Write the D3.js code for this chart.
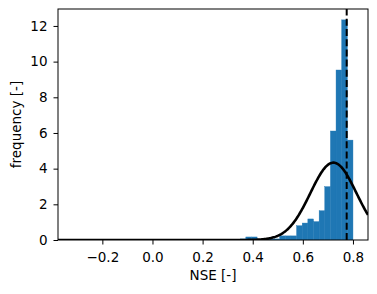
<!DOCTYPE html>
<html>
<head>
<meta charset="utf-8">
<script src="https://cdn.jsdelivr.net/npm/d3@7"></script>
<style>
  body { margin: 0; background: #fff; }
  svg text { font-family: "DejaVu Sans", sans-serif; font-size: 13.5px; fill: #000; }
</style>
</head>
<body>
<div id="chart"></div>
<script>
// histogram bins (density), left edges + width
const binStart = 0.35;
const binWidth = 0.0225;
const binHeights = [0.06, 0.17, 0.17, 0, 0, 0.06, 0.06, 0.23, 0.23, 0.23,
                    0.8, 0.95, 1.18, 1.03, 1.64, 2.99, 6.11, 9.53, 12.34, 5.6];
// fitted normal
const fitMean = 0.722;
const fitSd = 0.092;
// median marker
const medianNSE = 0.775;
const xTicks = [-0.2, 0.0, 0.2, 0.4, 0.6, 0.8];
const yTicks = [0, 2, 4, 6, 8, 10, 12];
const xDomain = [-0.377, 0.86];
const yDomain = [0, 12.95];

const width = 377, height = 294;
const margins = { top: 9, right: 9, bottom: 54, left: 58 };

const svg = d3.select('#chart').append('svg')
  .attr('width', width).attr('height', height);

const x = d3.scaleLinear().domain(xDomain).range([margins.left, width - margins.right]);
const y = d3.scaleLinear().domain(yDomain).range([height - margins.bottom, margins.top]);

svg.append('defs').append('clipPath').attr('id', 'clip')
  .append('rect')
  .attr('x', margins.left).attr('y', margins.top)
  .attr('width', width - margins.left - margins.right)
  .attr('height', height - margins.top - margins.bottom);

const plot = svg.append('g').attr('clip-path', 'url(#clip)');

// bars
const bins = binHeights.map((h, i) => ({ x0: binStart + i * binWidth, x1: binStart + (i + 1) * binWidth, h }));
plot.selectAll('rect.bar').data(bins.filter(d => d.h > 0)).enter().append('rect')
  .attr('class', 'bar')
  .attr('x', d => x(d.x0))
  .attr('width', d => x(d.x1) - x(d.x0))
  .attr('y', d => y(d.h))
  .attr('height', d => y(0) - y(d.h))
  .attr('fill', '#1f77b4')
  .attr('stroke', '#1f77b4')
  .attr('stroke-width', 0.4);

// normal fit curve
const pdf = v => Math.exp(-((v - fitMean) ** 2) / (2 * fitSd * fitSd)) / (fitSd * Math.sqrt(2 * Math.PI));
const curveX = d3.range(0, 401).map(i => xDomain[0] + (xDomain[1] - xDomain[0]) * i / 400);
plot.append('path')
  .datum(curveX)
  .attr('d', d3.line().x(d => x(d)).y(d => y(pdf(d))))
  .attr('fill', 'none')
  .attr('stroke', '#000')
  .attr('stroke-width', 2.6);

// dashed median line
plot.append('line')
  .attr('x1', x(medianNSE)).attr('x2', x(medianNSE))
  .attr('y1', y(yDomain[0])).attr('y2', y(yDomain[1]))
  .attr('stroke', '#000')
  .attr('stroke-width', 2)
  .attr('stroke-dasharray', '7,3.2');

// axes
const fmt = d => d3.format('.1f')(d).replace('-', '\u2212');
const xAxis = svg.append('g')
  .attr('transform', `translate(0,${height - margins.bottom})`)
  .call(d3.axisBottom(x).tickValues(xTicks).tickFormat(fmt).tickSizeInner(4.5).tickSizeOuter(0).tickPadding(8));
const yAxis = svg.append('g')
  .attr('transform', `translate(${margins.left},0)`)
  .call(d3.axisLeft(y).tickValues(yTicks).tickFormat(d3.format('d')).tickSizeInner(4.5).tickSizeOuter(0).tickPadding(6));
[xAxis, yAxis].forEach(a => {
  a.select('.domain').remove();
  a.selectAll('.tick line').attr('stroke', '#000').attr('stroke-width', 1);
  a.selectAll('.tick text').attr('font-size', 13.5).attr('font-family', '"DejaVu Sans", sans-serif');
});

// frame
svg.append('rect')
  .attr('x', margins.left).attr('y', margins.top)
  .attr('width', width - margins.left - margins.right)
  .attr('height', height - margins.top - margins.bottom)
  .attr('fill', 'none').attr('stroke', '#000').attr('stroke-width', 1);

// labels
svg.append('text')
  .attr('x', (margins.left + width - margins.right) / 2)
  .attr('y', 280)
  .attr('text-anchor', 'middle')
  .text('NSE [-]');
svg.append('text')
  .attr('transform', `translate(21,${(margins.top + height - margins.bottom) / 2}) rotate(-90)`)
  .attr('text-anchor', 'middle')
  .text('frequency [-]');
</script>
</body>
</html>
